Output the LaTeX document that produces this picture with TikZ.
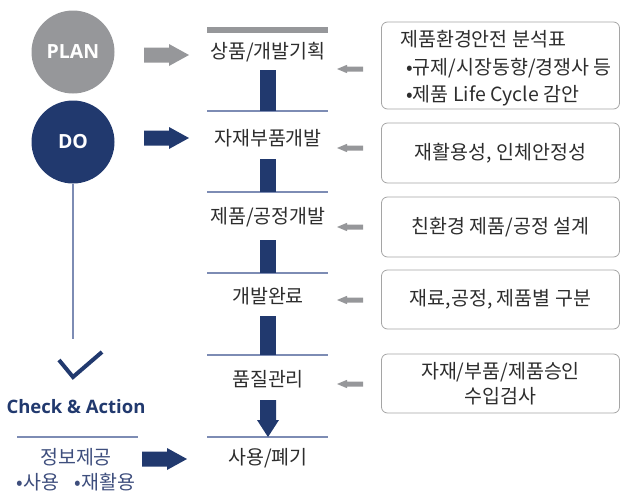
\documentclass[tikz,border=0pt]{standalone}
\usepackage{fontspec}
\setmainfont{Noto Sans CJK KR}
\newfontfamily\latinfont{Open Sans}
\usetikzlibrary{positioning}

\definecolor{navy}{RGB}{33,57,110}
\definecolor{plangray}{RGB}{150,151,154}
\definecolor{slate}{RGB}{125,140,180}
\definecolor{boxgray}{RGB}{165,165,165}
\definecolor{txt}{RGB}{45,45,45}
\definecolor{infoblue}{RGB}{62,78,125}

\begin{document}
\begin{tikzpicture}[x=1pt,y=-1pt,
	phase/.style={circle,minimum size=83pt,inner sep=0,text=white,font=\latinfont\bfseries\fontsize{19.5}{22}\selectfont},
	stage/.style={inner sep=0,text=txt,font=\fontsize{19.5}{22}\selectfont},
	infobox/.style={draw=boxgray,line width=0.8pt,rounded corners=6pt,minimum width=238pt,inner sep=0,text=txt,font=\fontsize{19.5}{22}\selectfont},
	stagebar/.style={navy,line width=16pt},
	sepline/.style={slate,line width=1.1pt},
	bigarrow/.pic={\fill (0,-7.5) -- (25,-7.5) -- (25,-11) -- (45,0) -- (25,11) -- (25,7.5) -- (0,7.5) -- cycle;},
	backarrow/.pic={\fill (0,0) -- (10,-4.2) -- (10,-2.5) -- (26,-2.5) -- (26,2.5) -- (10,2.5) -- (10,4.2) -- cycle;}]
	\useasboundingbox (0,0) rectangle (621,493);

	\node[phase,fill=plangray] (plan) at (73,52) {PLAN};
	\node[phase,fill=navy] (do) at (73,142) {DO};
	\coordinate (doend) at (73,339);
	\draw[slate,line width=1.3pt] (do.south) -- (doend);
	\draw[navy,line width=4pt] (59,360) -- (73,377) -- (102,352);
	\node[text=navy,font=\latinfont\bfseries\fontsize{18.5}{20}\selectfont] (check) at (76,407) {Check \& Action};
	\draw[sepline] (17,437) -- (138,437);
	\node[stage,text=infoblue] (info) at (76,457) {정보제공};
	\node[stage,text=infoblue,below=7pt of info] (use) {•사용\hspace{0.8em}•재활용};

	\pic[plangray] at (144,55) {bigarrow};
	\pic[navy] at (144,138) {bigarrow};
	\pic[navy] at (142,459) {bigarrow};

	\fill[plangray] (207,27) rectangle (328,33);
	\node[stage] (s1) at (268,52) {상품/개발기획};
	\node[stage] (s2) at (268,138) {자재부품개발};
	\node[stage] (s3) at (268,217) {제품/공정개발};
	\node[stage] (s4) at (268,296) {개발완료};
	\node[stage] (s5) at (268,379) {품질관리};
	\node[stage] (s6) at (268,458) {사용/폐기};
	\foreach \y/\n in {111/1,192/2,273/3,355/4,437/5}{
		\coordinate (l\n) at (268,\y);
		\draw[sepline] (207,\y) -- (328,\y);
	}
	\draw[stagebar] (268,70) -- (l1);
	\draw[stagebar] (268,159) -- (l2);
	\draw[stagebar] (268,240) -- (l3);
	\draw[stagebar] (268,316) -- (l4);
	\fill[navy] (260,400) -- (276,400) -- (276,420) -- (279,420) -- (268,437) -- (257,420) -- (260,420) -- cycle;

	\node[infobox,minimum height=87pt] (b1) at (500.5,65.5) {};
	\node[stage,anchor=west,align=left,font=\fontsize{19.5}{28}\selectfont] (t1) at (400,68) {제품환경안전 분석표\\\hspace*{6pt}•규제/시장동향/경쟁사 등\\[-1pt]\hspace*{6pt}•제품 Life Cycle 감안};
	\node[infobox,minimum height=60pt] (b2) at (500.5,153) {재활용성, 인체안정성};
	\node[infobox,minimum height=60pt] (b3) at (500.5,227) {친환경 제품/공정 설계};
	\node[infobox,minimum height=59pt] (b4) at (500.5,299.5) {재료,공정, 제품별 구분};
	\node[infobox,minimum height=59pt,align=center,font=\fontsize{19.5}{25}\selectfont] (b5) at (500.5,383.5) {자재/부품/제품승인\\수입검사};
	\foreach \y in {69,148,227,300,384}
		\pic[plangray] at (337,\y) {backarrow};
\end{tikzpicture}
\end{document}
